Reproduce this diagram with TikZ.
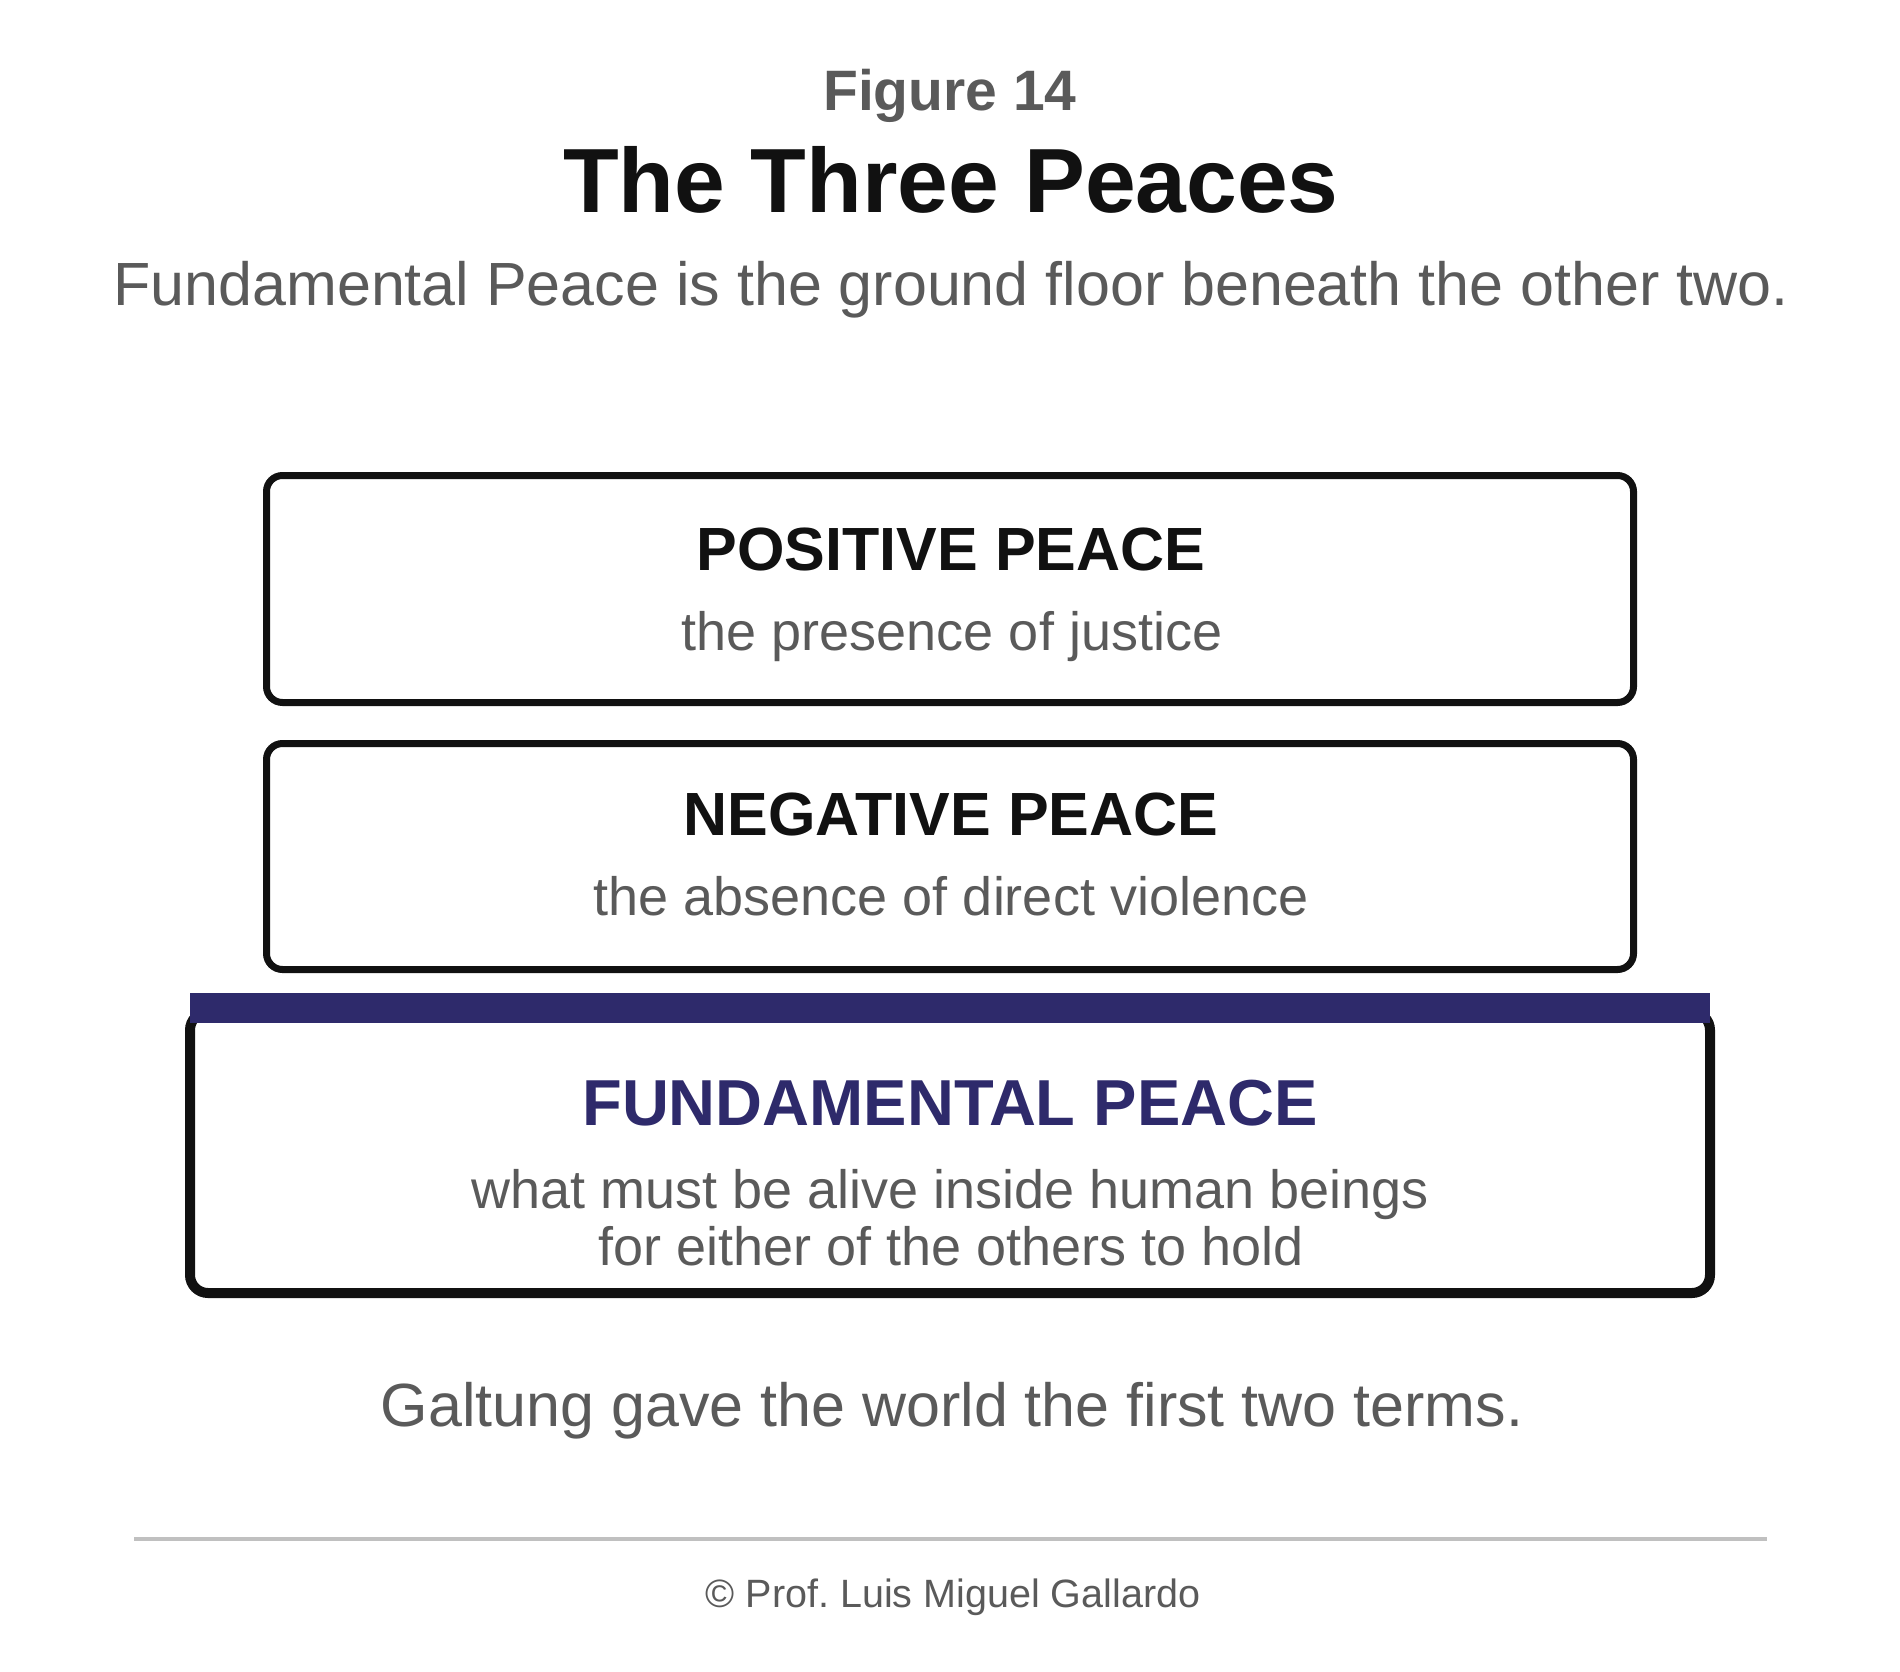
\documentclass[tikz,border=0pt]{standalone}
\usepackage{fontspec}
\setmainfont{Liberation Sans}
\definecolor{inkblack}{HTML}{111111}
\definecolor{inkgray}{HTML}{5A5A5A}
\definecolor{navy}{RGB}{46,42,107}
\definecolor{rulegray}{HTML}{C0C0C0}
\tikzset{
  peacebox/.style={draw=inkblack, line width=7pt, rounded corners=16pt, fill=white, inner sep=0pt},
  headtxt/.style={anchor=base, inner sep=0pt, text=inkblack, font=\fontsize{61}{61}\selectfont\bfseries},
  subtxt/.style={anchor=base, inner sep=0pt, text=inkgray, font=\fontsize{54}{54}\selectfont},
}
\frenchspacing
\begin{document}
\begin{tikzpicture}[x=1pt,y=-1pt]
\useasboundingbox (0,0) rectangle (1900,1672);
\fill[white] (0,0) rectangle (1900,1672);

% header
\node[anchor=base, inner sep=0pt, text=inkgray, font=\fontsize{57}{57}\selectfont\bfseries] (fig) at (950,111) {Figure 14};
\node[anchor=base, inner sep=0pt, text=inkblack, font=\fontsize{91.2}{91.2}\selectfont\bfseries] (title) at (951,213) {The Three Peaces};
\node[anchor=base, inner sep=0pt, text=inkgray, font=\fontsize{61}{61}\selectfont] (subtitle) at (951,305) {Fundamental Peace is the ground floor beneath the other two.};

% positive peace
\node[peacebox, minimum width=1367pt, minimum height=227pt] (posbox) at (950,589) {};
\node[headtxt] (poshead) at (951,570) {POSITIVE PEACE};
\node[subtxt] (possub) at (952,650) {the presence of justice};

% negative peace
\node[peacebox, minimum width=1367pt, minimum height=226pt] (negbox) at (950,856.5) {};
\node[headtxt] (neghead) at (951,835) {NEGATIVE PEACE};
\node[subtxt] (negsub) at (951,915) {the absence of direct violence};

% fundamental peace
\node[draw=inkblack, line width=10pt, rounded corners=18pt, fill=white, inner sep=0pt,
      minimum width=1520pt, minimum height=281pt] (fundbox) at (950,1152.5) {};
\node[fill=navy, inner sep=0pt, minimum width=1520pt, minimum height=30pt] (fundbar) at (950,1008) {};
\node[anchor=base, inner sep=0pt, text=navy, font=\fontsize{65}{65}\selectfont\bfseries] (fundhead) at (950,1125) {FUNDAMENTAL PEACE};
\node[subtxt] (fundsub1) at (950,1208) {what must be alive inside human beings};
\node[subtxt] (fundsub2) at (951,1265) {for either of the others to hold};

% footer
\node[anchor=base, inner sep=0pt, text=inkgray, font=\fontsize{61}{61}\selectfont] (galtung) at (952,1426) {Galtung gave the world the first two terms.};
\coordinate (ruleL) at (134,1539);
\coordinate (ruleR) at (1767,1539);
\draw[rulegray, line width=3.5pt] (ruleL) -- (ruleR);
\node[anchor=base, inner sep=0pt, text=inkgray, font=\fontsize{39.5}{39.5}\selectfont] (copy) at (953,1607) {© Prof. Luis Miguel Gallardo};
\end{tikzpicture}
\end{document}
